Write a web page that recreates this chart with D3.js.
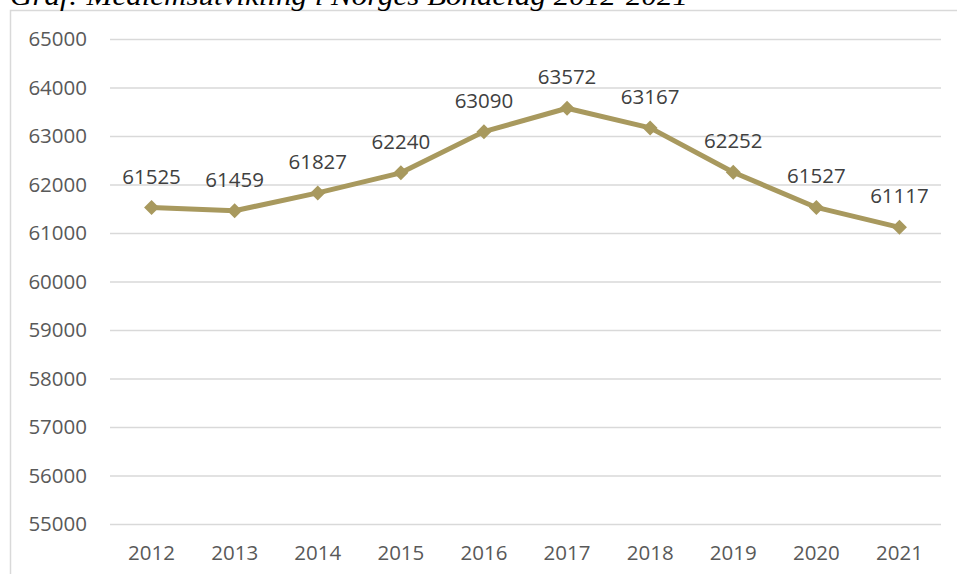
<!DOCTYPE html>
<html><head><meta charset="utf-8">
<script src="https://cdn.jsdelivr.net/npm/d3@7"></script>
<style>body{margin:0;background:#fff;overflow:hidden}</style>
</head><body>
<svg id="c" width="957" height="574"></svg>
<script>
const years = ["2012","2013","2014","2015","2016","2017","2018","2019","2020","2021"];
const members = [61525,61459,61827,62240,63090,63572,63167,62252,61527,61117];
const yTicks = [55000,56000,57000,58000,59000,60000,61000,62000,63000,64000,65000];
const title = "Graf: Medlemsutvikling i Norges Bondelag 2012-2021";

const svg = d3.select("#c");
const x = d3.scaleBand().domain(years).range([110, 941]);
const y = d3.scaleLinear().domain([55000,65000]).range([524, 39]);

// border
svg.append("rect").attr("x",10.5).attr("y",10.5).attr("width",960).attr("height",600)
  .attr("fill","none").attr("stroke","#d9d9d9").attr("stroke-width",1.5);

// title (cut off at top, as in the reference)
svg.append("text").attr("x",10).attr("y",5).attr("font-family","Liberation Serif, serif")
  .attr("font-style","italic").attr("font-size",27).attr("fill","#000")
  .attr("textLength",678).attr("lengthAdjust","spacingAndGlyphs").text(title);

const fs = 20.5;
// grid
const ya = d3.axisLeft(y).tickValues(yTicks).tickSize(-(941-110)).tickFormat(d3.format("d")).tickPadding(23);
const gy = svg.append("g").attr("transform","translate(110,0)").call(ya);
gy.select(".domain").remove();
gy.selectAll(".tick line").attr("stroke","#d9d9d9").attr("stroke-width",1.5);
gy.selectAll(".tick text").attr("font-family","Open Sans, sans-serif").attr("font-size",fs).attr("fill","#595959");

const xa = d3.axisBottom(x).tickSize(0).tickPadding(21);
const gx = svg.append("g").attr("transform","translate(0,524)").call(xa);
gx.select(".domain").remove();
gx.selectAll(".tick text").attr("font-family","Open Sans, sans-serif").attr("font-size",fs).attr("fill","#595959");

const cx = d => x(d) + x.bandwidth()/2;
const color = "#A8995E";
const line = d3.line().x((d,i)=>cx(years[i])).y(d=>y(d));
svg.append("path").datum(members).attr("d",line).attr("fill","none")
  .attr("stroke",color).attr("stroke-width",5).attr("stroke-linejoin","round");

svg.selectAll(".mk").data(members).enter().append("path")
  .attr("transform",(d,i)=>`translate(${cx(years[i])},${y(d)})`)
  .attr("d","M0,-7.5L7.5,0L0,7.5L-7.5,0Z").attr("fill",color);

svg.selectAll(".lb").data(members).enter().append("text")
  .attr("x",(d,i)=>cx(years[i])).attr("y",d=>y(d)-24)
  .attr("text-anchor","middle").attr("font-family","Open Sans, sans-serif")
  .attr("font-size",fs).attr("fill","#404040").text(d=>d);
</script>
</body></html>
